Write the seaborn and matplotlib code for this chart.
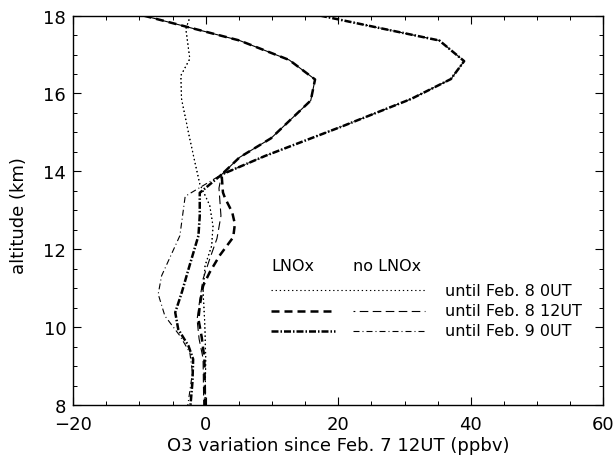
import numpy as np
import pandas as pd
import matplotlib
matplotlib.use("Agg")
import matplotlib.pyplot as plt
from matplotlib.ticker import MultipleLocator
import seaborn as sns

# values: altitude (km) and O3 change (ppbv)
# above ~14 km the LNOx / no-LNOx runs are the same, so they share the top part
alt_dot = [18.0, 17.66, 16.89, 16.46, 15.86, 14.83, 14.06, 13.68, 13.13, 12.6,
           12.09, 11.58, 10.9, 10.3, 9.87, 9.18, 8.0]
o3_dot = [-2.3, -3.0, -2.4, -3.75, -3.65, -2.4, -1.4, -0.9, 0.6, 1.1,
          0.9, -0.1, -0.4, -0.2, -0.1, 0.0, -0.1]

alt_dash_top = [18.0, 17.36, 16.86, 16.36, 15.82, 14.85, 14.36, 13.92]
o3_dash_top = [-9.4, 5.1, 12.6, 16.5, 15.85, 9.85, 5.1, 2.4]

alt_dashdot_top = [18.0, 17.36, 16.83, 16.37, 15.86, 15.15, 14.4, 13.92]
o3_dashdot_top = [17.25, 35.25, 39.0, 37.0, 31.0, 20.5, 9.0, 2.4]

alt_dash_lnox = [13.46, 13.32, 12.95, 12.65, 12.31, 11.84, 11.41, 11.06, 10.55,
                 10.21, 9.74, 9.2, 8.0]
o3_dash_lnox = [2.6, 2.9, 4.0, 4.4, 4.15, 2.1, 0.6, -0.4, -0.9,
                -1.1, -0.6, -0.2, -0.1]

alt_dash_nolnox = [13.57, 12.86, 12.28, 11.75, 11.24, 10.7, 10.2, 9.7, 9.2, 8.0]
o3_dash_nolnox = [2.0, 2.3, 1.7, 0.6, -0.4, -0.9, -1.3, -1.0, -0.4, -0.3]

alt_dashdot_lnox = [13.45, 12.86, 12.35, 11.49, 10.9, 10.38, 9.95, 9.52, 9.18,
                    8.6, 8.0]
o3_dashdot_lnox = [-0.9, -0.9, -1.1, -2.6, -3.6, -4.6, -4.15, -2.6, -1.9,
                   -2.0, -2.3]

alt_dashdot_nolnox = [13.36, 12.35, 11.32, 10.85, 10.29, 9.78, 9.35, 8.84, 8.0]
o3_dashdot_nolnox = [-3.1, -3.9, -6.66, -7.17, -6.16, -3.89, -2.4, -2.0, -2.7]

run_labels = ["until Feb. 8 0UT", "until Feb. 8 12UT", "until Feb. 9 0UT"]

# line styles (dash patterns are in units of linewidth)
# the thin dashed one is phased so it fills the gaps of the thick one
lw_thick, lw_thin = 1.8, 0.8
styles = {
    ("LNOx", 0): (lw_thin, (0, (1.2, 2.5))),
    ("no LNOx", 0): (lw_thin, (0, (1.2, 2.5))),
    ("LNOx", 1): (lw_thick, (0, (3.2, 2.0))),
    ("no LNOx", 1): (lw_thin, (6.1, (7.75, 3.95))),
    ("LNOx", 2): (lw_thick, (0, (2.8, 0.8, 0.6, 0.8))),
    ("no LNOx", 2): (lw_thin, (0, (5.4, 2.7, 0.9, 2.7))),
}

profiles = {
    ("LNOx", 0): (alt_dot, o3_dot),
    ("no LNOx", 0): (alt_dot, o3_dot),
    ("LNOx", 1): (alt_dash_top + alt_dash_lnox, o3_dash_top + o3_dash_lnox),
    ("no LNOx", 1): (alt_dash_top + alt_dash_nolnox, o3_dash_top + o3_dash_nolnox),
    ("LNOx", 2): (alt_dashdot_top + alt_dashdot_lnox, o3_dashdot_top + o3_dashdot_lnox),
    ("no LNOx", 2): (alt_dashdot_top + alt_dashdot_nolnox, o3_dashdot_top + o3_dashdot_nolnox),
}

sns.set_style("ticks", {"xtick.direction": "in", "ytick.direction": "in",
                        "text.color": "black", "axes.labelcolor": "black",
                        "xtick.color": "black", "ytick.color": "black",
                        "axes.edgecolor": "black"})
plt.rcParams["font.family"] = ["DejaVu Sans"]
plt.rcParams["font.size"] = 13

fig = plt.figure(figsize=(6.15, 4.6), dpi=100)
ax = fig.add_axes([0.119, 0.117, 0.862, 0.847])

for key, (alt, o3) in profiles.items():
    df = pd.DataFrame({"alt": alt, "o3": o3})
    lw, ls = styles[key]
    sns.lineplot(data=df, x="o3", y="alt", sort=False, estimator=None,
                 color="black", lw=lw, linestyle=ls, ax=ax, legend=False)

ax.set_xlim(-20, 60)
ax.set_ylim(8, 18)
ax.xaxis.set_major_locator(MultipleLocator(20))
ax.xaxis.set_minor_locator(MultipleLocator(5))
ax.yaxis.set_major_locator(MultipleLocator(2))
ax.yaxis.set_minor_locator(MultipleLocator(0.5))
ax.tick_params(which="both", direction="in", top=True, right=True,
               color="black", labelcolor="black", labelsize=13)
ax.tick_params(which="major", length=5.5, width=0.8)
ax.tick_params(which="minor", length=2.8, width=0.7)
ax.tick_params(axis="x", which="major", pad=7)
ax.tick_params(axis="y", which="major", pad=5)
for sp in ax.spines.values():
    sp.set_color("black")
    sp.set_linewidth(1.0)

ax.set_xlabel("O3 variation since Feb. 7 12UT (ppbv)", fontsize=13, color="black")
ax.set_ylabel("altitude (km)", fontsize=13, color="black")
ax.xaxis.set_label_coords(0.5, -0.078)
ax.yaxis.set_label_coords(-0.085, 0.49)

# hand-made legend block in axes coordinates
x_l = (0.374, 0.494)
x_n = (0.528, 0.664)
rows_y = [0.295, 0.243, 0.191]
ax.text(x_l[0], 0.358, "LNOx", transform=ax.transAxes, va="center", ha="left",
        fontsize=11.5, color="black")
ax.text(x_n[0], 0.358, "no LNOx", transform=ax.transAxes, va="center", ha="left",
        fontsize=11.5, color="black")
for i, y in enumerate(rows_y):
    for case, xs in (("LNOx", x_l), ("no LNOx", x_n)):
        lw, ls = styles[(case, i)]
        if i == 0 and case == "LNOx":
            xs = (x_l[0], x_n[0])
        ax.plot(xs, [y, y], transform=ax.transAxes, color="black", lw=lw, ls=ls)
    ax.text(0.701, y, run_labels[i], transform=ax.transAxes, va="center",
            ha="left", fontsize=11.5, color="black")

fig.savefig("out.png", dpi=100)
